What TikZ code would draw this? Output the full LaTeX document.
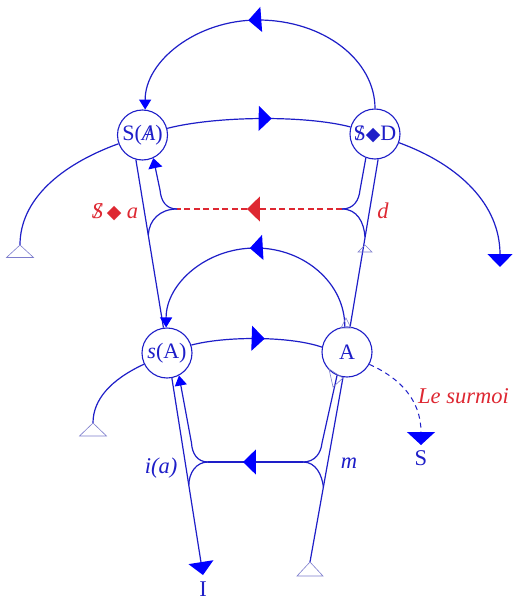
\documentclass[tikz,border=0pt]{standalone}
\usepackage{fontspec}
\setmainfont{Liberation Serif}
\newfontfamily\dejavu{DejaVu Sans}
\usetikzlibrary{arrows.meta,decorations.markings}
\definecolor{lb}{RGB}{30,30,200}
\definecolor{ab}{RGB}{0,0,255}
\definecolor{rd}{RGB}{222,40,50}
\definecolor{hb}{RGB}{125,125,205}
\newcommand{\barS}{\ooalign{S\cr\hidewidth/\hidewidth}}
\newcommand{\barA}{\ooalign{\itshape A\cr\hidewidth/\hidewidth}}
\newcommand{\dmd}{{\dejavu\fontsize{19}{19}\selectfont ◆}}
\begin{document}
\begin{tikzpicture}[x=1pt,y=-1pt,
  circ/.style={circle,draw=lb,line width=1.1pt,minimum size=50pt,inner sep=0pt,text=lb,font=\fontsize{22}{26}\selectfont},
  conn/.style={draw=lb,line width=1.2pt},
  lbl/.style={inner sep=0pt,text=lb,font=\fontsize{22.5}{26}\selectfont},
  hollow/.style={draw=hb,line width=0.6pt},
  bigtip/.style={-{Triangle[length=13pt,width=25pt,color=ab]}},
  smalltip/.style={-{Triangle[length=10pt,width=12pt,color=ab]}},
  midarr/.style={postaction={decorate},decoration={markings,mark=at position #1 with {\arrow{Triangle[length=13pt,width=25pt,color=ab]}}}},
  midarrred/.style={postaction={decorate},decoration={markings,mark=at position #1 with {\arrow{Triangle[length=13pt,width=25pt,color=rd]}}}}]
\useasboundingbox[fill=white] (0,0) rectangle (521,610);

\node[circ] (SA) at (142.5,135) {S(\barA)};
\node[circ] (SD) at (375,134) {\barS\dmd D};
\node[circ] (sA) at (167,353) {\textit{s}(A)};
\node[circ] (A) at (347,352) {A};

\coordinate (J1) at (177,209);
\coordinate (J2) at (342,209);
\coordinate (J3) at (208,462);
\coordinate (J4) at (303,462);
\coordinate (Ltop) at (20,245);
\coordinate (Rend) at (500,267);
\coordinate (sL) at (93,423);
\coordinate (Iend) at (203,575);
\coordinate (Bstart) at (310,562);
\coordinate (Send) at (421,445);

% top arcs
\draw[conn,midarr=0.535,smalltip] (SD.90) .. controls (375,60) and (323.5,20) .. (258,20) .. controls (196.5,20) and (145,61) .. (SA.84);
\draw[conn,midarr=0.57] (SA.15) .. controls (215,116) and (305,115) .. (SD.164);
\draw[conn] (SA.200) .. controls (60,165) and (20,200) .. (Ltop);
\draw[conn,bigtip] (SD.-20) .. controls (460,165) and (500,205) .. (Rend);

% main lines
\draw[conn] (SA.255) -- (sA.98);
\draw[conn,bigtip] (sA.-79) -- (Iend);
\draw[conn] (Bstart) -- (A.-99);
\draw[conn] (A.83) -- (SD.-83);

% lower arcs
\draw[conn,midarr=0.52,smalltip] (A.95) .. controls (345,283.8) and (304.9,248) .. (255.5,248) .. controls (206.1,248) and (166,283.8) .. (sA.92);
\draw[conn,midarr=0.56] (sA.18) .. controls (225,336) and (290,336) .. (A.169);
\draw[conn] (sA.206) .. controls (110,380) and (93,400) .. (sL);
\draw[conn,line width=1pt,dash pattern=on 5pt off 4pt,-{Triangle[length=13pt,width=28pt,color=ab]}] (A.-29) .. controls (400,378) and (421,400) .. (Send);

% upper bracket
\draw[draw=rd,line width=1.1pt,dash pattern=on 6pt off 3.5pt,midarrred=0.576] (J2) -- (J1);
\draw[conn,-{Triangle[length=10pt,width=14pt,color=ab]}] (J1) .. controls (166,209) and (161,201) .. (160,190) -- (SA.-65);
\draw[conn] (J1) .. controls (160,209) and (149,220) .. (148.3,235);
\draw[conn] (J2) .. controls (354,209) and (359,200) .. (360,190) -- (SD.-111);
\draw[conn] (J2) .. controls (357,209) and (364,222) .. (365,237);

% lower bracket
\draw[conn,midarr=0.632] (J4) -- (J3);
\draw[conn,smalltip] (J3) .. controls (197,462) and (192,453) .. (191.5,443) -- (sA.-62);
\draw[conn] (J3) .. controls (196,462) and (189,473) .. (188.8,485);
\draw[conn] (J4) .. controls (315,462) and (321,453) .. (322,443) -- (A.-113);
\draw[conn] (J4) .. controls (316,462) and (322,475) .. (323.4,487);

% hollow markers
\draw[hollow] (Ltop) -- ++(13.5,12.5) -- ++(-27,0) -- cycle;
\draw[hollow] (sL) -- ++(13.5,13) -- ++(-27,0) -- cycle;
\draw[hollow] (Bstart) -- ++(13,14) -- ++(-26,0) -- cycle;
\draw[hollow] (365,245) -- ++(7,7) -- ++(-14,0) -- cycle;
\draw[hollow] (346,318) -- ++(5,10) -- ++(-10,0) -- cycle;
\draw[hollow] (329,369) -- (343,378) -- (333,387) -- cycle;

% labels
\node[lbl,text=rd,anchor=base] (la) at (115,218) {\itshape\barS\,\dmd\ a};
\node[lbl,text=rd,anchor=base] (ld) at (383,218) {\itshape d};
\node[lbl,anchor=base] (lia) at (161,473) {\itshape i(a)};
\node[lbl,anchor=base] (lm) at (349,468) {\itshape m};
\node[lbl,anchor=base] (lI) at (203,596) {I};
\node[lbl,anchor=base] (lS) at (421,465) {S};
\node[lbl,text=rd,anchor=base west] (lsur) at (418,403) {\itshape Le surmoi};
\end{tikzpicture}
\end{document}
